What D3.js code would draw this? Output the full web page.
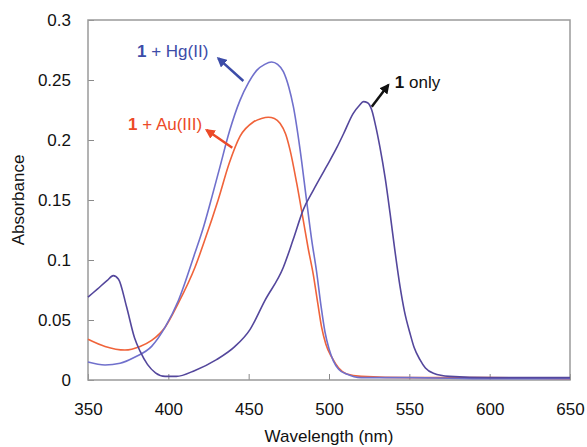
<!DOCTYPE html>
<html>
<head>
<meta charset="utf-8">
<title>Absorbance spectra</title>
<script src="https://cdn.jsdelivr.net/npm/d3@7"></script>
<style>
  body { margin: 0; background: #fff; }
  svg text { font-family: "Liberation Sans", Arial, sans-serif; }
  .frame { fill: none; stroke: #9a9a9a; stroke-width: 1.5; }
  .axis path, .axis line { stroke: #8a8a8a; }
  .axis text { font-size: 17px; fill: #111; }
</style>
</head>
<body>
<script>
// wavelength (nm) / absorbance
var onlyX = [350, 356, 362, 365.7, 369, 374, 379, 382.4, 387, 392, 398, 405, 416.6, 430, 441.5, 450.8, 460, 471.6, 477.7, 484, 490.2, 498.5, 505, 509, 515, 519, 521.4, 524, 526.6, 529, 531.7, 535, 538, 541, 544.2, 547, 550.4, 553, 556.6, 560, 565, 575, 600, 625, 650];
var onlyY = [0.069, 0.076, 0.083, 0.087, 0.084, 0.061, 0.035, 0.024, 0.013, 0.006, 0.003, 0.003, 0.008, 0.017, 0.028, 0.042, 0.066, 0.094, 0.117, 0.142, 0.158, 0.178, 0.194, 0.205, 0.222, 0.229, 0.232, 0.231, 0.225, 0.212, 0.194, 0.168, 0.139, 0.108, 0.078, 0.057, 0.039, 0.027, 0.017, 0.010, 0.0056, 0.003, 0.002, 0.002, 0.002];

var hgX = [350, 360.6, 370, 379, 389.6, 398, 406.2, 416.6, 422, 427, 432, 438, 444.6, 450, 455, 460, 464.3, 468, 471.6, 475, 477.8, 482, 486, 489.2, 492.3, 495, 497.5, 500, 502.7, 506, 511, 520, 550, 600, 650];
var hgY = [0.015, 0.0125, 0.014, 0.019, 0.028, 0.044, 0.066, 0.106, 0.128, 0.152, 0.177, 0.207, 0.233, 0.248, 0.258, 0.263, 0.265, 0.263, 0.257, 0.244, 0.228, 0.192, 0.150, 0.117, 0.090, 0.062, 0.040, 0.026, 0.016, 0.009, 0.005, 0.002, 0.002, 0.001, 0.001];

var auX = [350, 360.6, 373, 382.4, 389.6, 398, 406.2, 416.6, 422.8, 431, 438, 444.6, 452.9, 458, 462.2, 466, 469.5, 473, 475.7, 479.9, 484, 487, 490.2, 493, 495.4, 498, 501.7, 506, 511, 520, 550, 600, 650];
var auY = [0.034, 0.028, 0.025, 0.028, 0.033, 0.044, 0.064, 0.094, 0.117, 0.150, 0.181, 0.203, 0.215, 0.218, 0.219, 0.218, 0.214, 0.205, 0.192, 0.164, 0.133, 0.110, 0.088, 0.064, 0.044, 0.030, 0.019, 0.010, 0.005, 0.003, 0.002, 0.002, 0.001];

var xTicks = [350, 400, 450, 500, 550, 600, 650];
var yTicks = [0, 0.05, 0.1, 0.15, 0.2, 0.25, 0.3];

// labels placed in data units
var labelNames = ["1 + Hg(II)", "1 + Au(III)", "1 only"];
var labelAt = [[380.5, 0.269], [374.9, 0.208], [541, 0.243]];
// arrows: tail -> head, in data units
var arrowFrom = [[446.7, 0.2492], [439.8, 0.1936], [526.6, 0.2278]];
var arrowTo = [[431.1, 0.268], [423.8, 0.2083], [536.9, 0.2458]];
var labelColors = ["#3c4ca8", "#ec4a28", "#111111"];

var margin = {top: 20, right: 17, bottom: 67, left: 88},
    width = 587 - margin.left - margin.right,
    height = 447 - margin.top - margin.bottom;

var svg = d3.select("body").append("svg")
    .attr("width", 587)
    .attr("height", 447)
  .append("g")
    .attr("transform", "translate(" + margin.left + "," + margin.top + ")");

var x = d3.scaleLinear().domain([350, 650]).range([0, width]);
var y = d3.scaleLinear().domain([0, 0.3]).range([height, 0]);

// x axis, ticks pointing inward
svg.append("g")
    .attr("class", "axis")
    .attr("transform", "translate(0," + height + ")")
    .call(d3.axisBottom(x).tickValues(xTicks).tickSize(-6).tickSizeOuter(0).tickPadding(23).tickFormat(d3.format("d")));

svg.append("g")
    .attr("class", "axis")
    .call(d3.axisLeft(y).tickValues(yTicks).tickSize(-6).tickSizeOuter(0).tickPadding(17)
      .tickFormat(function(d) { return d === 0 ? "0" : String(+d.toFixed(2)); }));

svg.selectAll(".axis .domain").remove();

svg.append("rect")
    .attr("class", "frame")
    .attr("x", 0).attr("y", 0)
    .attr("width", width).attr("height", height);

var line = d3.line()
    .x(function(d) { return x(d[0]); })
    .y(function(d) { return y(d[1]); })
    .curve(d3.curveMonotoneX);

function pairs(xs, ys) { return xs.map(function(v, i) { return [v, ys[i]]; }); }

svg.append("path").datum(pairs(auX, auY))
    .attr("fill", "none").attr("stroke", "#f0633a").attr("stroke-width", 1.6).attr("d", line);
svg.append("path").datum(pairs(hgX, hgY))
    .attr("fill", "none").attr("stroke", "#7070cc").attr("stroke-width", 1.6).attr("d", line);
svg.append("path").datum(pairs(onlyX, onlyY))
    .attr("fill", "none").attr("stroke", "#54479c").attr("stroke-width", 1.6).attr("d", line);

// arrow heads
var defs = svg.append("defs");
labelColors.forEach(function(c, i) {
  defs.append("marker")
      .attr("id", "arr" + i)
      .attr("viewBox", "0 0 10 10")
      .attr("refX", 8).attr("refY", 5)
      .attr("markerWidth", 4).attr("markerHeight", 4)
      .attr("orient", "auto")
    .append("path")
      .attr("d", "M0,0 L10,5 L0,10 z")
      .attr("fill", c);
});

arrowFrom.forEach(function(p, i) {
  svg.append("line")
      .attr("x1", x(p[0])).attr("y1", y(p[1]))
      .attr("x2", x(arrowTo[i][0])).attr("y2", y(arrowTo[i][1]))
      .attr("stroke", labelColors[i])
      .attr("stroke-width", 2.5)
      .attr("marker-end", "url(#arr" + i + ")");
});

labelNames.forEach(function(name, i) {
  var t = svg.append("text")
      .attr("x", x(labelAt[i][0]))
      .attr("y", y(labelAt[i][1]))
      .attr("font-size", "17px")
      .attr("fill", labelColors[i]);
  t.append("tspan").attr("font-weight", "bold").text("1");
  t.append("tspan").text(name.slice(1));
});

// axis titles
svg.append("text")
    .attr("x", width / 2)
    .attr("y", height + 62)
    .attr("text-anchor", "middle")
    .attr("font-size", "17px")
    .attr("fill", "#111")
    .text("Wavelength (nm)");

svg.append("text")
    .attr("transform", "translate(" + (-64) + "," + (height / 2) + ") rotate(-90)")
    .attr("text-anchor", "middle")
    .attr("font-size", "17px")
    .attr("fill", "#111")
    .text("Absorbance");
</script>
</body>
</html>
